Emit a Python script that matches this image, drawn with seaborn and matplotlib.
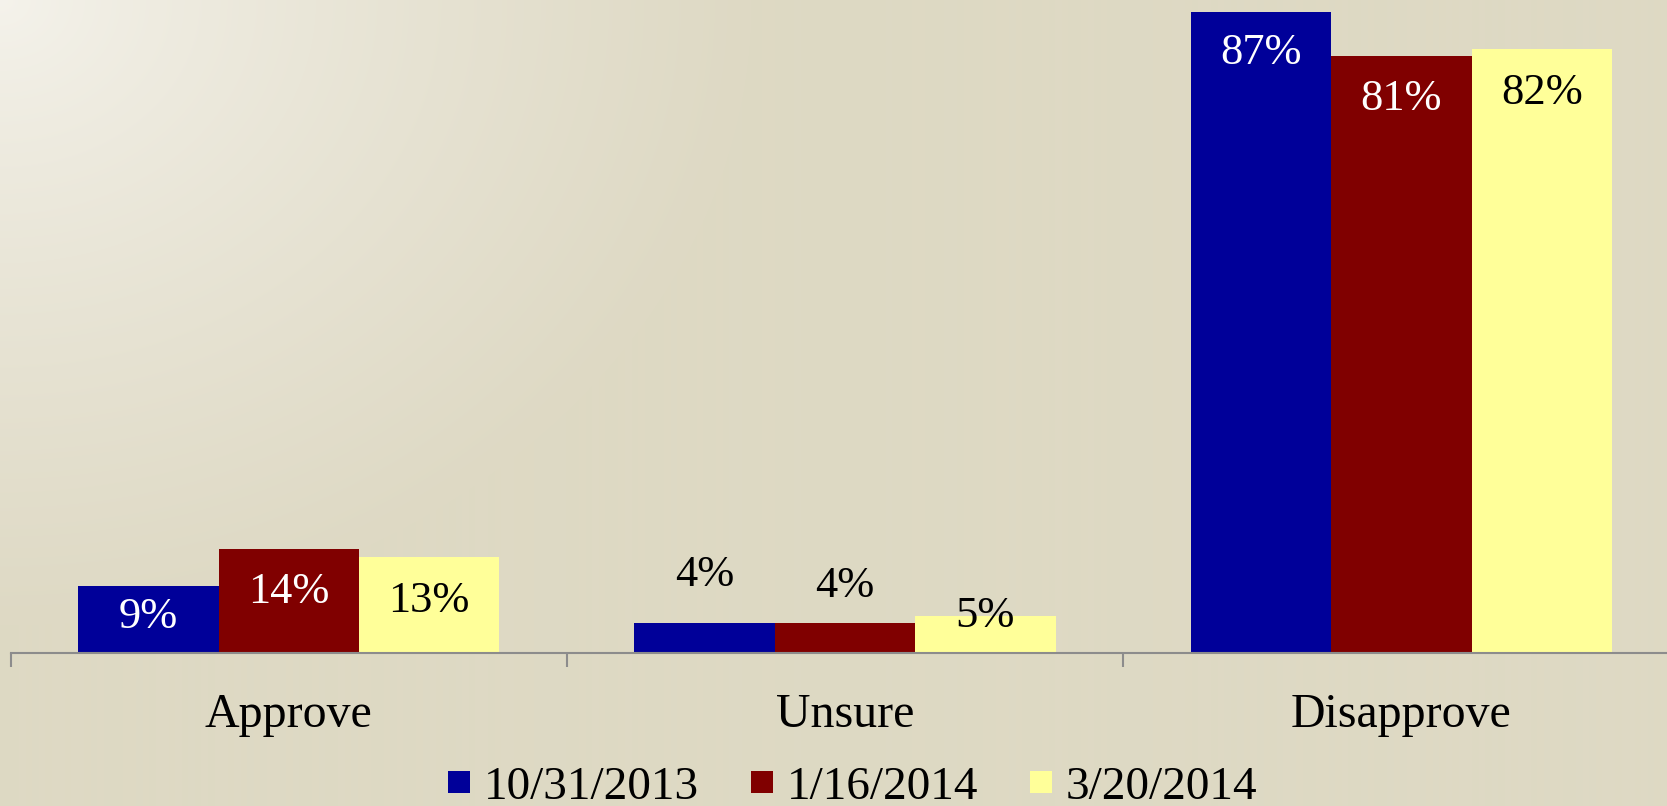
import numpy as np
import pandas as pd
import seaborn as sns
import matplotlib.pyplot as plt
from matplotlib.lines import Line2D

# data
categories = ["Approve", "Unsure", "Disapprove"]
dates = ["10/31/2013", "1/16/2014", "3/20/2014"]
vals_2013_10 = [9, 4, 87]
vals_2014_01 = [14, 4, 81]
vals_2014_03 = [13, 5, 82]

colors = ["#000099", "#800000", "#FFFF99"]
# label vertical offsets (pixels, relative to bar top) and colours, per series
label_offsets = [[-31, 48, -41], [-43, 37, -43], [-44, 0, -44]]
label_colors = [["white", "black", "white"],
                ["white", "black", "white"],
                ["black", "black", "black"]]

rows = []
for d, vals in zip(dates, [vals_2013_10, vals_2014_01, vals_2014_03]):
    for c, v in zip(categories, vals):
        rows.append({"category": c, "date": d, "value": v})
df = pd.DataFrame(rows)

sns.set_style("white")
plt.rcParams["font.family"] = ["Liberation Serif", "DejaVu Serif"]

W, H = 1667, 806
fig = plt.figure(figsize=(W / 100, H / 100), dpi=100)

# background gradient (light top-left corner fading to tan)
bg = fig.add_axes([0, 0, 1, 1], zorder=-10)
yy, xx = np.mgrid[0:H, 0:W]
t = np.clip(np.hypot(xx, yy * 1.2) / 750, 0, 1) ** 0.8
light = np.array([245, 243, 236]) / 255
tan = np.array([222, 217, 196]) / 255
img = light[None, None, :] * (1 - t[..., None]) + tan[None, None, :] * t[..., None]
bg.imshow(img, aspect="auto", extent=[0, 1, 0, 1], origin="upper")
bg.axis("off")

left = 10.6 / W
bottom = (H - 652.5) / H
ax = fig.add_axes([left, bottom, 1 - left, 1 - bottom])
ax.patch.set_alpha(0)

sns.barplot(data=df, x="category", y="value", hue="date", palette=colors,
            width=0.757, gap=0, saturation=1, linewidth=0, ax=ax, legend=False)

ax.set_xlabel("")
ax.set_ylabel("")
ax.set_yticks([])
for s in ["top", "right", "left"]:
    ax.spines[s].set_visible(False)
ax.spines["bottom"].set_color("#8c8c8c")
ax.spines["bottom"].set_linewidth(1.5)

ax.set_xticks(range(len(categories)))
ax.set_xticklabels(categories, fontsize=34.5, color="black")
ax.tick_params(axis="x", which="major", length=0, pad=29)
ax.set_xticks([i - 0.5 for i in range(len(categories) + 1)], minor=True)
ax.tick_params(axis="x", which="minor", bottom=True, length=10, width=1.5,
               color="#8c8c8c", direction="out")

# limits after the ticks (set_xticks widens the view)
ax.set_xlim(-0.5, -0.5 + (W - 10.6) / 556.3)
ax.set_ylim(0, 88.6)

for k, cont in enumerate(ax.containers):
    for j, bar in enumerate(cont):
        x = bar.get_x() + bar.get_width() / 2
        h = bar.get_height()
        ax.annotate(f"{h:.0f}%", xy=(x, h), xytext=(0, label_offsets[k][j]),
                    textcoords="offset pixels", ha="center", va="center",
                    fontsize=32, color=label_colors[k][j])

handles = [Line2D([], [], marker="s", linestyle="", markersize=15.5,
                  markerfacecolor=c, markeredgewidth=0) for c in colors]
fig.legend(handles, dates, loc="center", bbox_to_anchor=(853 / W, 19 / H),
           ncol=3, frameon=False, fontsize=34, labelcolor="black",
           handlelength=0.45, handletextpad=0.3, columnspacing=1.1,
           borderpad=0)

plt.savefig("out.png", dpi=100)
